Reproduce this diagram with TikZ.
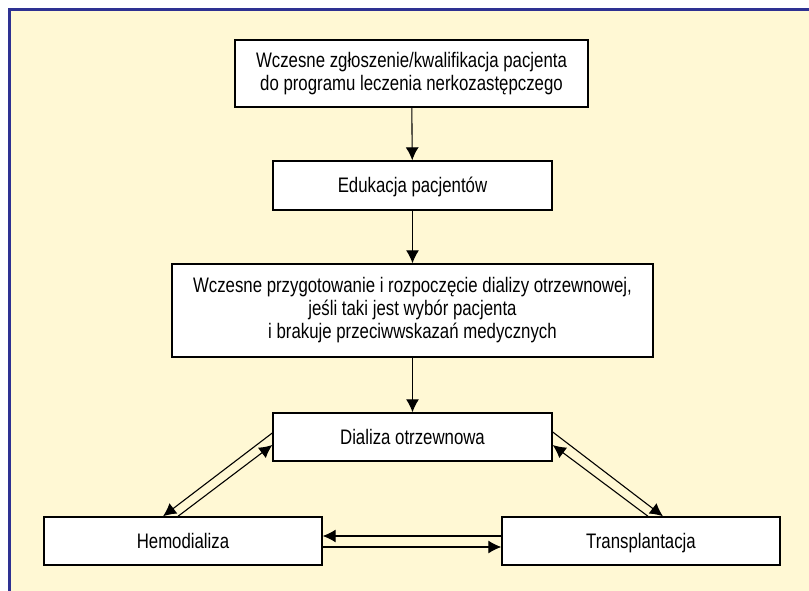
\documentclass[tikz,border=0pt]{standalone}
\usepackage{fontspec}
\setmainfont{Liberation Sans}[FakeStretch=0.8]
\usetikzlibrary{arrows.meta}
\definecolor{panelbg}{HTML}{FFF8D4}
\definecolor{panelblue}{HTML}{2E3192}
\begin{document}
\begin{tikzpicture}[x=1pt, y=-1pt, >={Latex[length=13pt,width=13pt]},
	box/.style={draw, fill=white, line width=1.4pt, inner sep=0pt, align=center, font=\fontsize{21}{23}\selectfont},
	onebox/.style={box, text height=15pt, text depth=0pt},
	link/.style={->, line width=1.1pt}]
		% Frame
		\useasboundingbox (0, 0) rectangle (809, 591);
		\fill[panelbg] (10, 11) rectangle (809, 591);
		\draw[panelblue, line width=3pt] (9, 591) -- (9, 10) -- (809, 10);
		
		% Nodes
		\node[box, minimum width=353, minimum height=67] (qual) at (411.5, 73.5) {Wczesne zgłoszenie/kwalifikacja pacjenta\\do programu leczenia nerkozastępczego};
		\node[onebox, minimum width=279, minimum height=49] (edu) at (412.5, 185.5) {Edukacja pacjentów};
		\node[box, minimum width=481, minimum height=93] (prep) at (412.5, 310.5) {Wczesne przygotowanie i rozpoczęcie dializy otrzewnowej,\\jeśli taki jest wybór pacjenta\\i brakuje przeciwwskazań medycznych};
		\node[onebox, minimum width=279, minimum height=48] (dial) at (412.5, 437) {Dializa otrzewnowa};
		\node[onebox, minimum width=278, minimum height=48] (hemo) at (183, 541) {Hemodializa};
		\node[onebox, minimum width=278, minimum height=48] (trans) at (641, 541) {Transplantacja};
		
		% Lines
		\draw[link] (qual) -- (edu);
		\draw[link] (edu) -- (prep);
		\draw[link] (prep) -- (dial);
		
		\draw[link] ([yshift=4pt]dial.west) -- ([xshift=-20pt]hemo.north);
		\draw[link] ([xshift=-5pt]hemo.north) -- ([yshift=-8pt]dial.west);
		
		\draw[link] ([yshift=5pt]dial.east) -- ([xshift=22pt]trans.north);
		\draw[link] ([xshift=7pt]trans.north) -- ([yshift=-8pt]dial.east);
		
		\draw[link] ([yshift=5pt]trans.west) -- ([yshift=5pt]hemo.east);
		\draw[link] ([yshift=-6pt]hemo.east) -- ([yshift=-6pt]trans.west);
		
	\end{tikzpicture}
\end{document}
